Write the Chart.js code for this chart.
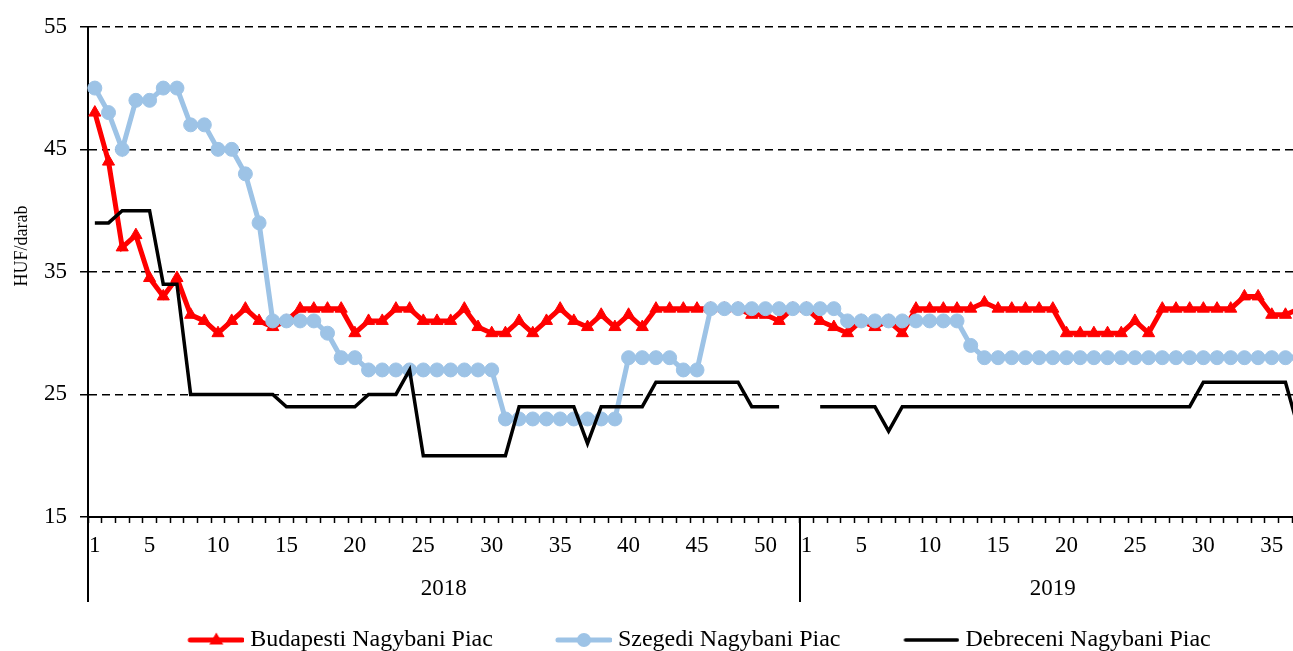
<!DOCTYPE html>
<html>
<head>
<meta charset="utf-8">
<script src="https://cdn.jsdelivr.net/npm/chart.js@4"></script>
<style>
  html, body { margin: 0; padding: 0; background: #fff; overflow: hidden; }
  #wrap { width: 1293px; height: 651px; overflow: hidden; }
</style>
</head>
<body>
<div id="wrap"><canvas id="chart" width="1346" height="662"></canvas></div>
<script>
// week numbers (x axis)
const weeks2018 = [1,2,3,4,5,6,7,8,9,10,11,12,13,14,15,16,17,18,19,20,21,22,23,24,25,26,
  27,28,29,30,31,32,33,34,35,36,37,38,39,40,41,42,43,44,45,46,47,48,49,50,51,52];
const weeks2019 = [1,2,3,4,5,6,7,8,9,10,11,12,13,14,15,16,17,18,19,20,21,22,23,24,25,26,
  27,28,29,30,31,32,33,34,35,36,37];
const years = ['2018', '2019'];

// HUF/darab prices
const budapest2018 = [48,44,37,38,34.5,33,34.5,31.5,31,30,31,32,31,30.5,31,32,32,32,32,30,31,31,32,32,31,31,
  31,32,30.5,30,30,31,30,31,32,31,30.5,31.5,30.5,31.5,30.5,32,32,32,32,32,32,32,31.5,31.5,31,32];
const budapest2019 = [32,31,30.5,30,31,30.5,31,30,32,32,32,32,32,32.5,32,32,32,32,32,30,30,30,30,30,31,30,
  32,32,32,32,32,32,33,33,31.5,31.5,32];

const szeged2018 = [50,48,45,49,49,50,50,47,47,45,45,43,39,31,31,31,31,30,28,28,27,27,27,27,27,27,
  27,27,27,27,23,23,23,23,23,23,23,23,23,28,28,28,28,27,27,32,32,32,32,32,32,32];
const szeged2019 = [32,32,32,31,31,31,31,31,31,31,31,31,29,28,28,28,28,28,28,28,28,28,28,28,28,28,
  28,28,28,28,28,28,28,28,28,28,28];

const debrecen2018 = [39,39,40,40,40,34,34,25,25,25,25,25,25,25,24,24,24,24,24,24,25,25,25,27,20,20,
  20,20,20,20,20,24,24,24,24,24,21,24,24,24,24,26,26,26,26,26,26,26,24,24,24,null];
const debrecen2019 = [null,24,24,24,24,24,22,24,24,24,24,24,24,24,24,24,24,24,24,24,24,24,24,24,24,24,
  24,24,24,26,26,26,26,26,26,26,22];

const seriesNames = ['Budapesti Nagybani Piac', 'Szegedi Nagybani Piac', 'Debreceni Nagybani Piac'];

const labels = weeks2018.concat(weeks2019).map(String);
const RED = '#ff0000';
const BLUE = '#9dc3e6';
const FONT = '"Liberation Serif", "Times New Roman", serif';

// legend icons: line + marker, transparent on the left part
function legendIcon(color, lineW, marker) {
  const c = document.createElement('canvas');
  c.width = 115; c.height = 20;
  const g = c.getContext('2d');
  g.strokeStyle = color;
  g.fillStyle = color;
  g.lineWidth = lineW;
  g.lineCap = 'round';
  g.beginPath();
  g.moveTo(61, 10);
  g.lineTo(113, 10);
  g.stroke();
  if (marker === 'triangle') {
    g.beginPath();
    g.moveTo(87, 2.5);
    g.lineTo(94, 14.5);
    g.lineTo(80, 14.5);
    g.closePath();
    g.fill();
  } else if (marker === 'circle') {
    g.beginPath();
    g.arc(87, 10, 7, 0, Math.PI * 2);
    g.fill();
  }
  return c;
}
const icons = [legendIcon(RED, 5, 'triangle'), legendIcon(BLUE, 5, 'circle'), legendIcon('#000', 3.5, null)];

// year labels, year separators and y axis title
const yearPlugin = {
  id: 'years',
  afterDraw(chart) {
    const ctx = chart.ctx;
    const xs = chart.scales.x;
    const area = chart.chartArea;
    const half = (xs.getPixelForValue(1) - xs.getPixelForValue(0)) / 2;
    const start18 = xs.getPixelForValue(0) - half;
    const end18 = xs.getPixelForValue(weeks2018.length - 1) + half;
    const end19 = xs.getPixelForValue(labels.length - 1) + half;
    ctx.save();
    ctx.strokeStyle = '#000';
    ctx.lineWidth = 2;
    [start18, end18].forEach(px => {
      ctx.beginPath();
      ctx.moveTo(Math.round(px), area.bottom);
      ctx.lineTo(Math.round(px), area.bottom + 85);
      ctx.stroke();
    });
    ctx.fillStyle = '#000';
    ctx.font = '23px ' + FONT;
    ctx.textAlign = 'center';
    ctx.textBaseline = 'middle';
    ctx.fillText(years[0], (start18 + end18) / 2, area.bottom + 72);
    ctx.fillText(years[1], (end18 + end19) / 2, area.bottom + 72);
    ctx.translate(22, 246);
    ctx.rotate(-Math.PI / 2);
    ctx.font = '18px ' + FONT;
    ctx.fillText('HUF/darab', 0, 0);
    ctx.restore();
  }
};

new Chart(document.getElementById('chart'), {
  type: 'line',
  data: {
    labels: labels,
    datasets: [
      {
        label: seriesNames[0],
        data: budapest2018.concat(budapest2019),
        borderColor: RED,
        backgroundColor: RED,
        borderWidth: 5,
        pointStyle: 'triangle',
        pointRadius: 7,
        pointBorderWidth: 1,
        pointBackgroundColor: RED,
        pointBorderColor: RED,
        tension: 0,
        order: 3
      },
      {
        label: seriesNames[1],
        data: szeged2018.concat(szeged2019),
        borderColor: BLUE,
        backgroundColor: BLUE,
        borderWidth: 5,
        pointStyle: 'circle',
        pointRadius: 7,
        pointBorderWidth: 1,
        pointBackgroundColor: BLUE,
        pointBorderColor: BLUE,
        tension: 0,
        order: 2
      },
      {
        label: seriesNames[2],
        data: debrecen2018.concat(debrecen2019),
        borderColor: '#000',
        backgroundColor: '#000',
        borderWidth: 3.5,
        pointRadius: 0,
        spanGaps: false,
        tension: 0,
        order: 1
      }
    ]
  },
  options: {
    responsive: false,
    animation: false,
    events: [],
    layout: { padding: { top: 24, left: 0, right: 0, bottom: 0 } },
    scales: {
      x: {
        offset: true,
        grid: {
          offset: true,
          drawOnChartArea: false,
          drawTicks: true,
          tickLength: 6,
          tickColor: '#000',
          tickWidth: 1.5
        },
        border: { color: '#000', width: 2 },
        ticks: {
          autoSkip: false,
          maxRotation: 0,
          minRotation: 0,
          padding: 9,
          color: '#000',
          font: { family: FONT, size: 23 },
          callback: function(value) {
            const w = Number(this.getLabelForValue(value));
            return (w === 1 || w % 5 === 0) ? String(w) : '';
          }
        },
        afterFit: s => { s.height = 101; }
      },
      y: {
        min: 15,
        max: 55,
        grid: {
          color: c => (c.tick && c.tick.value === 15) ? 'rgba(0,0,0,0)' : '#000',
          lineWidth: 1.5,
          tickLength: 8,
          tickColor: '#000',
          tickWidth: 1.5
        },
        border: { color: '#000', width: 2, dash: [8, 5] },
        ticks: {
          stepSize: 10,
          padding: 13,
          color: '#000',
          font: { family: FONT, size: 23 }
        },
        afterFit: s => { s.width = 88; }
      },
      yRight: {
        type: 'linear',
        position: 'right',
        grid: { display: false },
        border: { display: false },
        ticks: { display: false },
        afterFit: s => { s.width = 40; }
      }
    },
    plugins: {
      legend: {
        position: 'bottom',
        labels: {
          usePointStyle: true,
          pointStyleWidth: 103,
          padding: 10,
          color: '#000',
          font: { family: FONT, size: 24 },
          generateLabels: chart => chart.data.datasets.map((ds, i) => ({
            text: ds.label,
            pointStyle: icons[i],
            fillStyle: ds.borderColor,
            strokeStyle: ds.borderColor,
            lineWidth: 0,
            hidden: false,
            datasetIndex: i
          }))
        }
      },
      tooltip: { enabled: false }
    }
  },
  plugins: [yearPlugin]
});
</script>
</body>
</html>
